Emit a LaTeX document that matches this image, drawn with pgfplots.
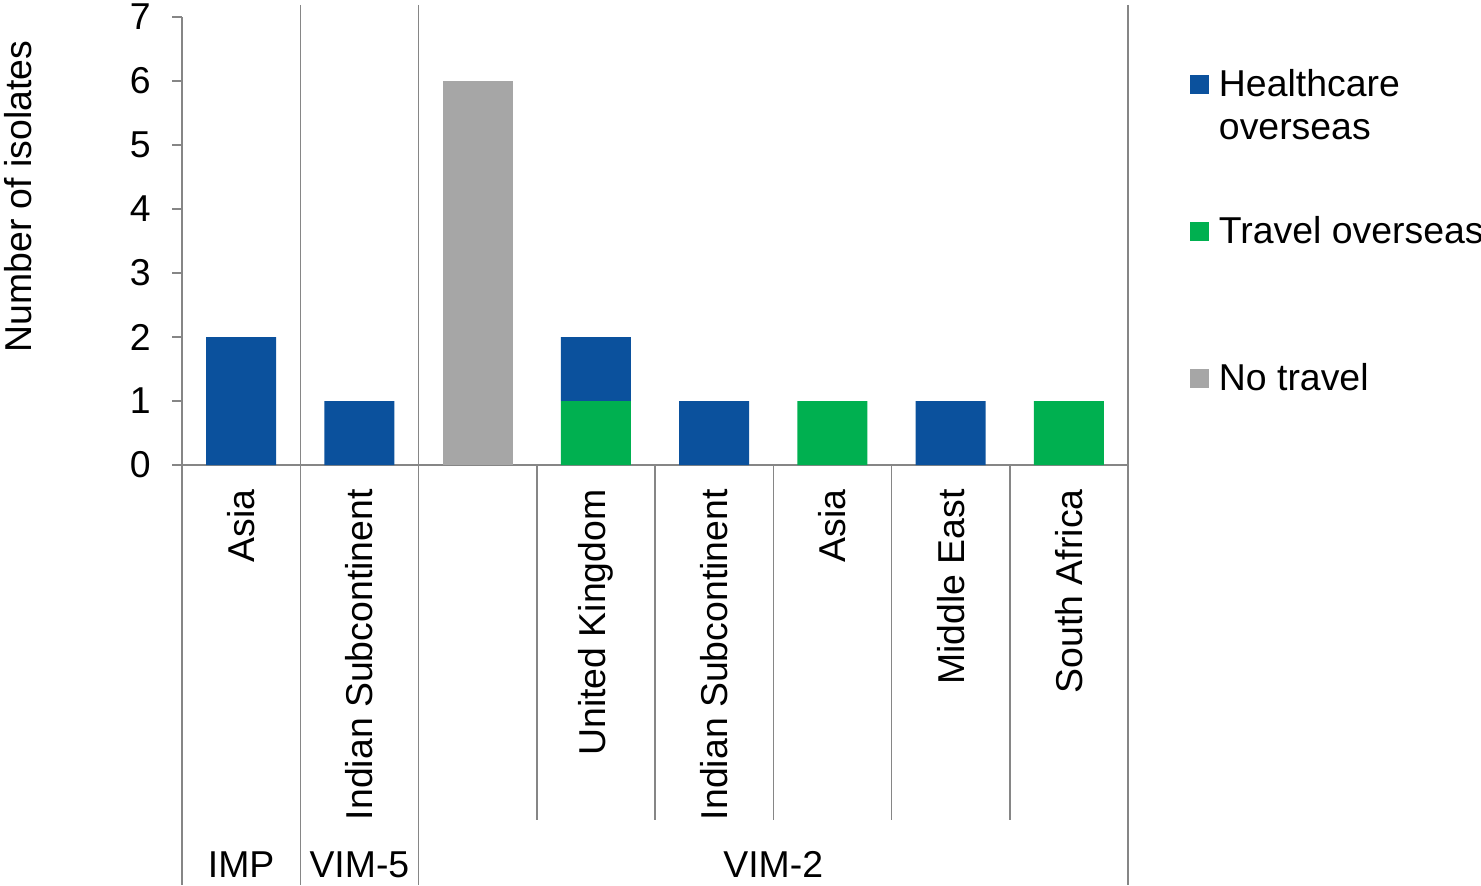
\documentclass[border=0pt]{standalone}
\usepackage{fontspec}
\setmainfont{Liberation Sans}
\usepackage{pgfplots}
\usepackage{pgfplotstable}
\pgfplotsset{compat=1.18}

\definecolor{hcblue}{RGB}{11,81,157}
\definecolor{hcgreen}{RGB}{0,176,80}
\definecolor{hcgray}{RGB}{166,166,166}
\definecolor{axisgray}{RGB}{134,134,134}

% isolates per category: travel overseas, healthcare overseas, no travel
\pgfplotstableread{
x travel health none
0 0 2 0
1 0 1 0
2 0 0 6
3 1 1 0
4 0 1 0
5 1 0 0
6 0 1 0
7 1 0 0
}\isolates

\begin{document}
\fontsize{18.7}{21.3}\selectfont
\begin{tikzpicture}[sep/.style={draw=axisgray, line width=0.75pt}]
\useasboundingbox (0,0) rectangle (740.5pt,442.5pt);
\begin{axis}[
  at={(91pt,210pt)}, anchor=south west,
  scale only axis, width=473pt, height=224pt,
  xmin=-0.5, xmax=7.5, ymin=0, ymax=7,
  axis lines=left,
  axis line style={-, draw=axisgray, line width=0.75pt},
  ytick={0,...,7},
  tick align=outside, major tick length=5pt,
  tick style={draw=axisgray, line width=0.75pt},
  xtick={0,...,7},
  xtick style={draw=none},
  xticklabels={Asia,Indian Subcontinent,,United Kingdom,Indian Subcontinent,Asia,Middle East,South Africa},
  xticklabel style={rotate=90, anchor=east, inner xsep=7pt, inner ysep=0pt},
  yticklabel style={anchor=east, inner sep=0pt, xshift=-10.5pt},
  /pgf/number format/assume math mode=true,
  ybar stacked, bar width=35pt,
  clip=false,
  legend image code/.code={\path[#1] (0pt,23.9pt) rectangle (9.5pt,33.4pt);},
  legend cell align=left,
  legend style={at={(rel axis cs:1.0655,0.8846)}, anchor=north west,
    draw=none, fill=none, inner sep=0pt, outer sep=0pt,
    column sep=5pt, row sep=0pt,
    nodes={inner sep=0pt, text height=14pt, text depth=59.5pt}},
]
\addlegendimage{fill=hcblue, draw=none}
\addlegendimage{fill=hcgreen, draw=none}
\addlegendimage{fill=hcgray, draw=none}

\addplot[fill=hcgreen, draw=none, forget plot] table[x=x, y=travel] {\isolates};
\addplot[fill=hcblue, draw=none, forget plot] table[x=x, y=health] {\isolates};
\addplot[fill=hcgray, draw=none, forget plot] table[x=x, y=none] {\isolates};

\legend{\vtop{\hbox{Healthcare}\hbox{overseas}}, Travel overseas, No travel}

% group separators and category dividers
\draw[sep] (axis cs:-0.5,0) -- ([yshift=-210pt]axis cs:-0.5,0);
\draw[sep] ([yshift=230pt]axis cs:0.5,0) -- ([yshift=-210pt]axis cs:0.5,0);
\draw[sep] ([yshift=230pt]axis cs:1.5,0) -- ([yshift=-210pt]axis cs:1.5,0);
\draw[sep] ([yshift=230pt]axis cs:7.5,0) -- ([yshift=-210pt]axis cs:7.5,0);
\draw[sep] (axis cs:2.5,0) -- ([yshift=-177.5pt]axis cs:2.5,0);
\draw[sep] (axis cs:3.5,0) -- ([yshift=-177.5pt]axis cs:3.5,0);
\draw[sep] (axis cs:4.5,0) -- ([yshift=-177.5pt]axis cs:4.5,0);
\draw[sep] (axis cs:5.5,0) -- ([yshift=-177.5pt]axis cs:5.5,0);
\draw[sep] (axis cs:6.5,0) -- ([yshift=-177.5pt]axis cs:6.5,0);

% enzyme groups
\node[anchor=base] at ([yshift=-206pt]axis cs:0,0) {IMP};
\node[anchor=base] at ([yshift=-206pt]axis cs:1,0) {VIM-5};
\node[anchor=base] at ([yshift=-206pt]axis cs:4.5,0) {VIM-2};
\end{axis}
\node[rotate=90, inner sep=0pt] at (9.3pt,344.2pt) {Number of isolates};
\end{tikzpicture}
\end{document}
